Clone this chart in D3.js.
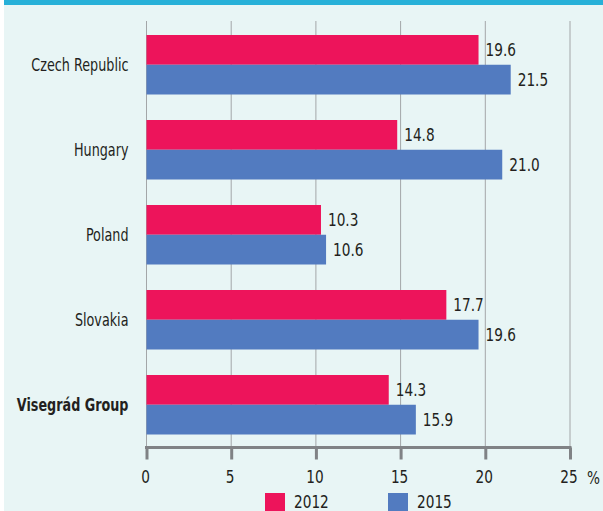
<!DOCTYPE html>
<html>
<head>
<meta charset="utf-8">
<script src="https://cdn.jsdelivr.net/npm/d3@7"></script>
<style>
  html, body { margin: 0; padding: 0; background: #ffffff; }
  svg { display: block; }
  text { font-family: "DejaVu Sans", sans-serif; fill: #231f20; }
</style>
</head>
<body>
<script>
// Share of population, % — Visegrád countries
const categories = ["Czech Republic", "Hungary", "Poland", "Slovakia", "Visegrád Group"];
const values2012 = [19.6, 14.8, 10.3, 17.7, 14.3];
const values2015 = [21.5, 21.0, 10.6, 19.6, 15.9];
const seriesNames = ["2012", "2015"];
const tickValues = [0, 5, 10, 15, 20, 25];
const boldCategory = "Visegrád Group";

const W = 603, H = 511;
const colors = { "2012": "#ed145b", "2015": "#527bc0" };
const FS = 18;        // font size for all labels
const SX = 0.76;      // horizontal squeeze to get a condensed face (numbers)
const SXC = 0.71;     // squeeze for the category names

const svg = d3.select("body").append("svg").attr("width", W).attr("height", H);

// panel background and top band
svg.append("rect").attr("x", 4).attr("y", 0).attr("width", W - 4).attr("height", H).attr("fill", "#e8f5f5");
svg.append("rect").attr("x", 4).attr("y", 0).attr("width", W - 4).attr("height", 5).attr("fill", "#27b0d8");

const x = d3.scaleLinear().domain([0, 25]).range([146.5, 570]);
const y = d3.scaleBand().domain(categories).range([35, 434.5]).paddingInner(0.3).paddingOuter(0);

const gridTop = 21, axisY = 447.5;

// vertical gridlines
svg.append("g").selectAll("line").data(tickValues).join("line")
  .attr("x1", d => x(d)).attr("x2", d => x(d))
  .attr("y1", gridTop).attr("y2", axisY)
  .attr("stroke", "#a3a6a8").attr("stroke-width", 1);

const rows = categories.map((c, i) => ({ cat: c, v: [values2012[i], values2015[i]] }));
const barH = y.bandwidth() / 2;

const g = svg.append("g").selectAll("g").data(rows).join("g")
  .attr("transform", d => `translate(0,${y(d.cat)})`);

g.selectAll("rect").data(d => d.v.map((v, j) => ({ v, j }))).join("rect")
  .attr("x", x(0)).attr("y", d => d.j * barH)
  .attr("width", d => x(d.v) - x(0)).attr("height", barH)
  .attr("fill", d => colors[seriesNames[d.j]]);

// value labels
g.selectAll("text.val").data(d => d.v.map((v, j) => ({ v, j }))).join("text")
  .attr("class", "val")
  .attr("transform", d => `translate(${x(d.v) + 7},${d.j * barH + barH / 2 + 6}) scale(${SX},1)`)
  .attr("font-size", FS)
  .text(d => d3.format(".1f")(d.v));

// category labels
g.append("text")
  .attr("transform", `translate(128.5,${barH + 6.5}) scale(${SXC},1)`)
  .attr("text-anchor", "end").attr("font-size", FS)
  .attr("font-weight", d => d.cat === boldCategory ? "bold" : "normal")
  .text(d => d.cat);

// x axis
const axis = d3.axisBottom(x).tickValues(tickValues).tickSize(12).tickPadding(11).tickFormat(d3.format("d"));
const ax = svg.append("g").attr("transform", `translate(0,${axisY})`).call(axis);
ax.select(".domain").attr("stroke", "#808285").attr("stroke-width", 3).attr("d", `M${x(0) - 1.5},0H${x(25) + 1.5}`);
ax.selectAll(".tick line").attr("stroke", "#808285").attr("stroke-width", 3);
ax.selectAll(".tick text").attr("font-size", FS).attr("fill", "#231f20")
  .attr("transform", `translate(-1.5,0) scale(${SX},1)`)
  .style("font-family", '"DejaVu Sans", sans-serif');
svg.append("text").attr("transform", `translate(587,483.5) scale(${SX},1)`).attr("font-size", FS).text("%");

// legend
const legendX = [265, 388];
const leg = svg.append("g").selectAll("g").data(seriesNames).join("g")
  .attr("transform", (d, i) => `translate(${legendX[i]},493)`);
leg.append("rect").attr("width", 20).attr("height", 20).attr("fill", d => colors[d]);
leg.append("text").attr("transform", `translate(29,14.5) scale(${SX},1)`).attr("font-size", FS).text(d => d);
</script>
</body>
</html>
